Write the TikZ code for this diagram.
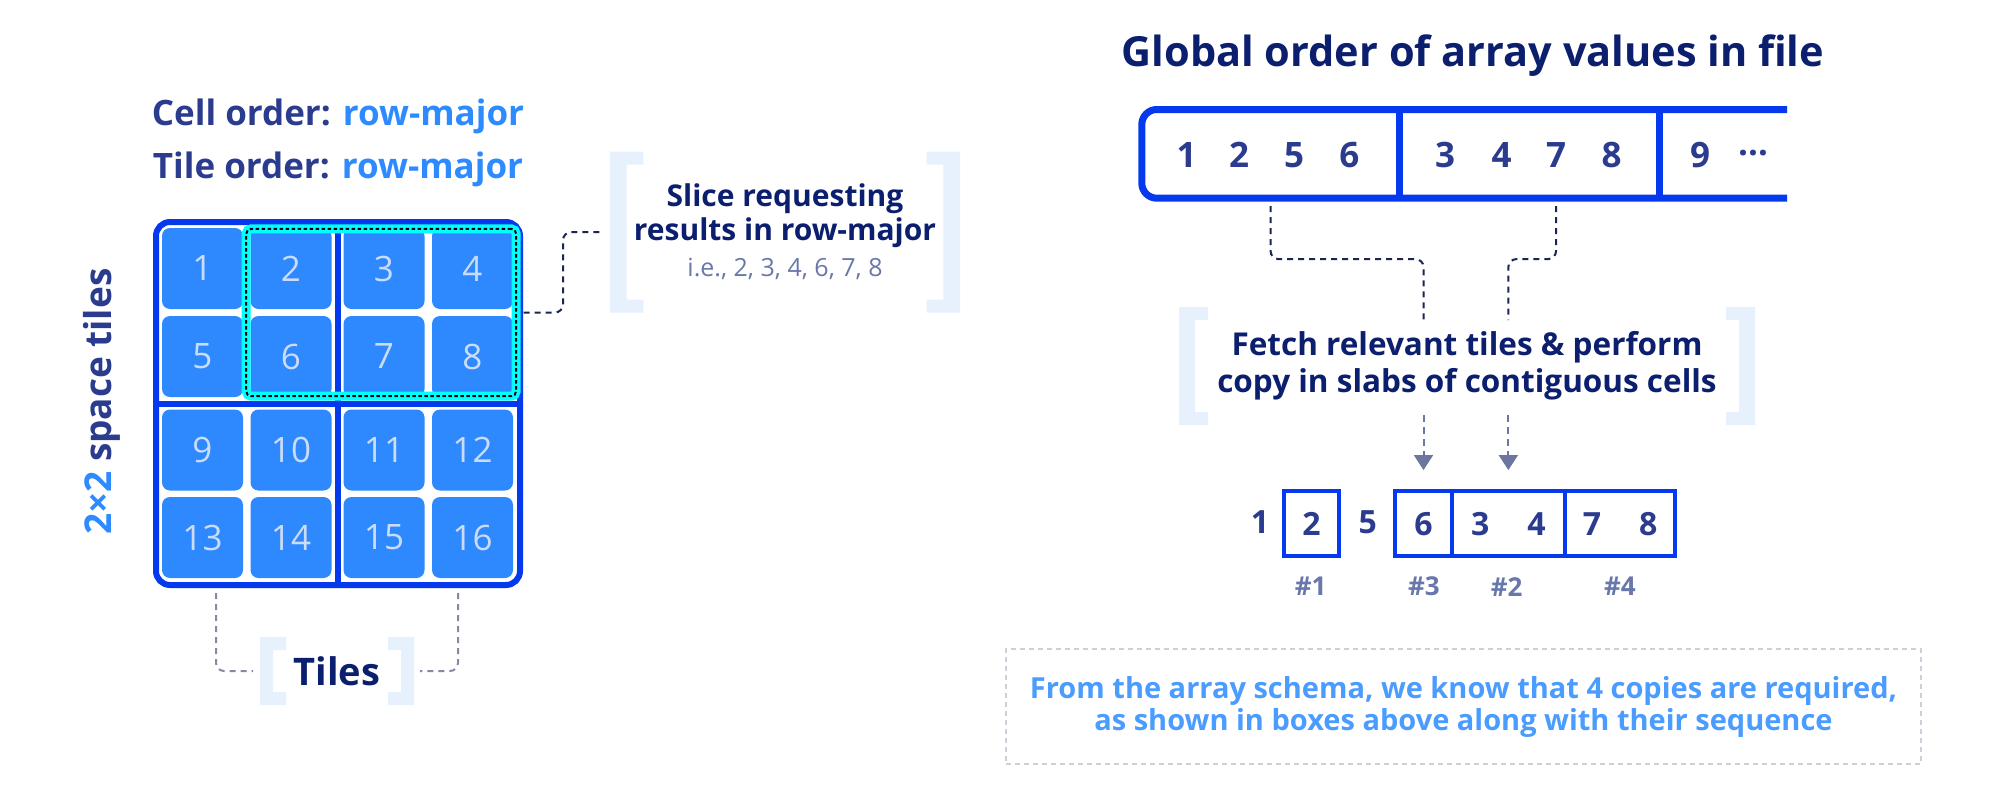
\documentclass[tikz,border=0pt]{standalone}
\usepackage{fontspec}
\setmainfont{Open Sans}
\usetikzlibrary{arrows.meta,calc}

\definecolor{navyhead}{HTML}{0B1F6E}
\definecolor{navytext}{HTML}{2B3C8F}
\definecolor{skyblue}{HTML}{2E8BFF}
\definecolor{cellfill}{HTML}{2E88FE}
\definecolor{celltext}{HTML}{CADCF7}
\definecolor{edgeblue}{HTML}{0439EE}
\definecolor{brakfill}{HTML}{E7F0FD}
\definecolor{hintgrey}{HTML}{6878AB}
\definecolor{notesky}{HTML}{4B9CFF}
\definecolor{noteedge}{HTML}{CDD0DA}
\definecolor{arrowgrey}{HTML}{6B779E}
\definecolor{linknavy}{HTML}{1B2552}
\definecolor{linkgrey}{HTML}{858AA2}
\definecolor{selcyan}{HTML}{00FFFF}

% light square brackets round a node: node, bar width, arm length
\newcommand{\brackets}[3]{%
  \fill[brakfill] (#1.north west) -- ++(#3,0) -- ++(0,13) -- ++(#2-#3,0)
    -- ([xshift=#2pt,yshift=13pt]#1.south west) -- ++(#3-#2,0) -- ++(0,13)
    -- (#1.south west) -- cycle;
  \fill[brakfill] (#1.north east) -- ++(-#3,0) -- ++(0,13) -- ++(#3-#2,0)
    -- ([xshift=-#2pt,yshift=13pt]#1.south east) -- ++(#2-#3,0) -- ++(0,13)
    -- (#1.south east) -- cycle;}

\tikzset{
  cell/.style={fill=cellfill, rounded corners=8pt, minimum size=81pt, inner sep=0pt,
    text=celltext, font=\fontsize{35}{40}\selectfont},
  gridframe/.style={draw=edgeblue, line width=6pt, rounded corners=14pt,
    minimum width=364pt, minimum height=363pt, inner sep=0pt},
  gridline/.style={edgeblue, line width=6pt},
  selbox/.style={draw=selcyan, line width=9pt, rounded corners=5pt,
    minimum width=270pt, minimum height=167.4pt, inner sep=0pt,
    postaction={draw=black, line width=2pt, dash pattern=on 3.5pt off 2.5pt}},
  order/.style={font=\fontsize{35}{40}\selectfont\bfseries, text=navytext, inner sep=0pt},
  brak/.style={inner sep=0pt, outer sep=0pt},
  headtext/.style={font=\fontsize{30}{34}\selectfont\bfseries, text=navyhead, align=center},
  arrdigit/.style={font=\fontsize{35}{40}\selectfont\bfseries, text=navytext, inner sep=0pt},
  slab/.style={draw=edgeblue, line width=4pt, minimum height=65.3pt, inner sep=0pt,
    font=\fontsize{32}{36}\selectfont\bfseries, text=navytext},
  copytag/.style={font=\fontsize{26}{30}\selectfont\bfseries, text=hintgrey},
  seg/.style={minimum height=88.7pt, inner sep=0pt, outer sep=0pt},
  barline/.style={edgeblue, line width=7pt},
  link/.style={linknavy, line width=2pt, dash pattern=on 6pt off 5pt, rounded corners=8pt},
  tilelink/.style={linkgrey, line width=2pt, dash pattern=on 6pt off 5pt, rounded corners=8pt},
  fetcharr/.style={arrowgrey, line width=2pt, dash pattern=on 7pt off 5pt,
    -{Triangle[width=19pt,length=15pt]}},
  notebox/.style={draw=noteedge, line width=2pt, dash pattern=on 5pt off 4pt,
    minimum width=915pt, minimum height=115pt, align=center, text=notesky,
    font=\fontsize{29}{32}\selectfont\bfseries},
}

\begin{document}
\begin{tikzpicture}[x=1pt,y=-1pt]
  \fill[white] (0,0) rectangle (2000,798);

  % left: the 4x4 array in 2x2 space tiles
  \node[order, anchor=base] (cellord) at (338,125) {Cell order: \textcolor{skyblue}{row-major}};
  \node[order, anchor=base] (tileord) at (338,178.3) {Tile order: \textcolor{skyblue}{row-major}};
  \node[order, rotate=90, font=\fontsize{37}{40}\selectfont\bfseries] (side) at (101.5,401.7)
    {\textcolor{skyblue}{2×2} space tiles};

  \foreach \r/\y in {0/268.5,1/356.5,2/450,3/537.5}
    \foreach \c/\x in {1/202.5,2/291,3/384,4/472.5}{
      \pgfmathtruncatemacro{\n}{4*\r+\c}
      \node[cell] (c\n) at (\x,\y) {\n};
    }
  \node[gridframe] (grid) at (338,403.5) {};
  \draw[gridline] (grid.north) -- (grid.south);
  \draw[gridline] (grid.west) -- (grid.east);
  \node[selbox] (sel) at (381.2,312.5) {};

  % slice note
  \node[brak, minimum width=350pt, minimum height=161pt, headtext] (slice) at (785,232.2)
    {Slice requesting\\results in row-major\\[2pt]{\mdseries\fontsize{25}{30}\selectfont\color{hintgrey}i.e., 2, 3, 4, 6, 7, 8}};
  \brackets{slice}{16.7}{33.3}
  \draw[link, shorten <=3pt] (sel.east) -| ([xshift=-47pt]slice.west) -- ([xshift=-10pt]slice.west);

  % tiles note
  \node[brak, minimum width=154pt, minimum height=68pt, headtext,
    font=\fontsize{38}{42}\selectfont\bfseries] (tiles) at (337,671) {Tiles};
  \brackets{tiles}{13}{26}
  \draw[tilelink, shorten <=5pt] ([xshift=-122pt]grid.south) |- ([xshift=-7pt]tiles.west);
  \draw[tilelink, shorten <=5pt] ([xshift=120pt]grid.south) |- ([xshift=6pt]tiles.east);

  % right: values in the file
  \node[font=\fontsize{41.5}{46}\selectfont\bfseries, text=navyhead, anchor=base] (title)
    at (1473,66.7) {Global order of array values in file};
  \node[seg, minimum width=257.5pt] (seg1) at (1270.55,153.85) {};
  \node[seg, minimum width=260.4pt] (seg2) at (1529.5,153.85) {};
  \node[seg, minimum width=127.3pt] (seg3) at (1723.35,153.85) {};
  \draw[barline, rounded corners=15pt] (seg3.north east) -| (seg1.south west) -- (seg3.south east);
  \draw[barline] (seg1.north east) -- (seg1.south east) (seg2.north east) -- (seg2.south east);
  \foreach \d/\x in {1/1186.7,2/1239,5/1294,6/1349.3,3/1445,4/1501.7,7/1556,8/1611.7,9/1700}
    \node[arrdigit] (a\d) at (\x,155) {\d};
  \node[arrdigit] (adots) at (1753,153) {…};

  % fetch note
  \node[brak, minimum width=576pt, minimum height=118pt, headtext,
    font=\fontsize{31.5}{36.7}\selectfont\bfseries] (fetch) at (1467,366)
    {Fetch relevant tiles \& perform\\copy in slabs of contiguous cells};
  \brackets{fetch}{16}{29}

  % copies
  \node[arrdigit, font=\fontsize{32}{36}\selectfont\bfseries] (r1) at (1260,522) {1};
  \node[slab, minimum width=55.3pt] (b2) at (1311.4,523.7) {2};
  \node[arrdigit, font=\fontsize{32}{36}\selectfont\bfseries] (r5) at (1367.7,522) {5};
  \node[slab, minimum width=56.4pt] (b6) at (1423.5,523.7) {6};
  \node[slab, minimum width=113.3pt] (b34) at (1508.35,523.7) {3\hspace{38pt}4};
  \node[slab, minimum width=110.4pt] (b78) at (1620.2,523.7) {7\hspace{38pt}8};
  \foreach \t/\x in {1/1310.7,3/1424,2/1506.7,4/1620}
    \node[copytag] (tag\t) at (\x,586.7) {\#\t};

  \coordinate (f1) at ($(b6 |- fetch.north)+(0,13)$);
  \coordinate (f2) at ($(b34 |- fetch.north)+(0,13)$);
  \draw[link, shorten <=8pt] (seg1.south) |- ($(seg1.south)!.5!(f1)$) -| (f1);
  \draw[link, shorten <=8pt] (a7 |- seg2.south) |- ($(a7 |- seg2.south)!.5!(f2)$) -| (f2);
  \draw[fetcharr, shorten <=-10pt, shorten >=19pt] (b6 |- fetch.south) -- (b6);
  \draw[fetcharr, shorten <=-10pt, shorten >=19pt] (b34 |- fetch.south) -- (b34);

  % bottom note
  \node[notebox] (note) at (1463.5,706.5)
    {From the array schema, we know that 4 copies are required,\\as shown in boxes above along with their sequence};
\end{tikzpicture}
\end{document}
